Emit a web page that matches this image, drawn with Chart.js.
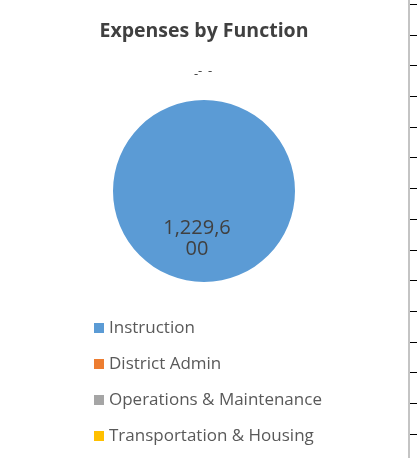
<!DOCTYPE html>
<html>
<head>
<meta charset="utf-8">
<script src="https://cdn.jsdelivr.net/npm/chart.js@4/dist/chart.umd.min.js"></script>
<style>
  body { margin: 0; background: #fff; }
  #wrap { position: relative; width: 417px; height: 458px; }
  /* spreadsheet cell borders on the right edge */
  #edge {
    position: absolute; left: 408px; top: 0; width: 9px; height: 458px;
    border-left: 2px solid #c4c4c4; box-sizing: border-box;
    background: repeating-linear-gradient(to bottom, transparent 0px, transparent 4px, #000 4px, #000 5px, transparent 5px, transparent 30.7px);
  }
</style>
</head>
<body>
<div id="wrap">
  <canvas id="pie-chart" width="408" height="458"></canvas>
  <div id="edge"></div>
</div>
<script>
const pieChart = document.getElementById("pie-chart");

// 항목 / 금액
const chartTitle = "Expenses by Function";
const functionLabels = ["Instruction", "District Admin", "Operations & Maintenance", "Transportation & Housing"];
const expenseValues = [1229600, 0, 0, 0];
const sliceColors = ["#5B9BD5", "#ED7D31", "#A5A5A5", "#FFC000"];

const fontName = "'Open Sans'";

function formatAmount(v) {
    if (v === 0) return "-";
    return v.toLocaleString("en-US");
}

// 글자 단위 줄바꿈
function wrapChars(ctx, text, maxWidth) {
    const lines = [];
    let line = "";
    for (const ch of text) {
        if (line && ctx.measureText(line + ch).width > maxWidth) {
            lines.push(line);
            line = ch;
        } else {
            line += ch;
        }
    }
    if (line) lines.push(line);
    return lines;
}

// 제목
const titlePlugin = {
    id: "chartTitle",
    afterDraw(chart) {
        const ctx = chart.ctx;
        ctx.save();
        ctx.font = "bold 19.5px " + fontName;
        ctx.fillStyle = "#404040";
        ctx.textAlign = "center";
        ctx.textBaseline = "middle";
        ctx.fillText(chartTitle, 204, 31);
        ctx.restore();
    }
};

// 데이터 라벨
const dataLabelPlugin = {
    id: "dataLabels",
    afterDatasetsDraw(chart) {
        const ctx = chart.ctx;
        const meta = chart.getDatasetMeta(0);
        const values = chart.data.datasets[0].data;
        let zeroCount = 0;
        ctx.save();
        ctx.fillStyle = "#404040";
        ctx.textAlign = "center";
        ctx.textBaseline = "middle";
        meta.data.forEach((arc, i) => {
            const text = formatAmount(values[i]);
            if (values[i] > 0) {
                ctx.font = "20px " + fontName;
                const pos = arc.tooltipPosition();
                const lines = wrapChars(ctx, text, 72);
                const lh = 21;
                lines.forEach((ln, k) => {
                    ctx.fillText(ln, pos.x - 7, pos.y + 2.5 + (k - (lines.length - 1) / 2) * lh);
                });
            } else {
                // 0 값은 파이 위쪽 바깥에 표시
                ctx.font = "13px " + fontName;
                const offsets = [[-8, 3], [-4, 0], [6, 0]];
                const o = offsets[zeroCount % offsets.length];
                ctx.fillText(text, arc.x + o[0], arc.y - arc.outerRadius - 29 + o[1]);
                zeroCount++;
            }
        });
        ctx.restore();
    }
};

// 세로 범례
const verticalLegendPlugin = {
    id: "verticalLegend",
    afterDraw(chart) {
        const ctx = chart.ctx;
        const labels = chart.data.labels;
        const colors = chart.data.datasets[0].backgroundColor;
        ctx.save();
        ctx.font = "17px " + fontName;
        ctx.textBaseline = "middle";
        labels.forEach((lbl, i) => {
            const y = 328 + i * 36;
            ctx.fillStyle = colors[i];
            ctx.fillRect(94, y - 5, 10, 10);
            ctx.fillStyle = "#595959";
            ctx.fillText(lbl, 109, y);
        });
        ctx.restore();
    }
};

const expenseChart = new Chart(pieChart, {
    type: 'pie',
    data: {
        labels: functionLabels,
        datasets: [{
            data: expenseValues,
            backgroundColor: sliceColors,
            borderWidth: 0
        }]
    },
    options: {
        responsive: false,
        animation: false,
        layout: {
            padding: {
                left: 113,
                right: 113,
                top: 100,
                bottom: 176
            }
        },
        plugins: {
            legend: {
                display: false
            },
            tooltip: {
                enabled: false
            },
            title: {
                display: false
            }
        }
    },
    plugins: [titlePlugin, dataLabelPlugin, verticalLegendPlugin]
});
</script>
</body>
</html>
